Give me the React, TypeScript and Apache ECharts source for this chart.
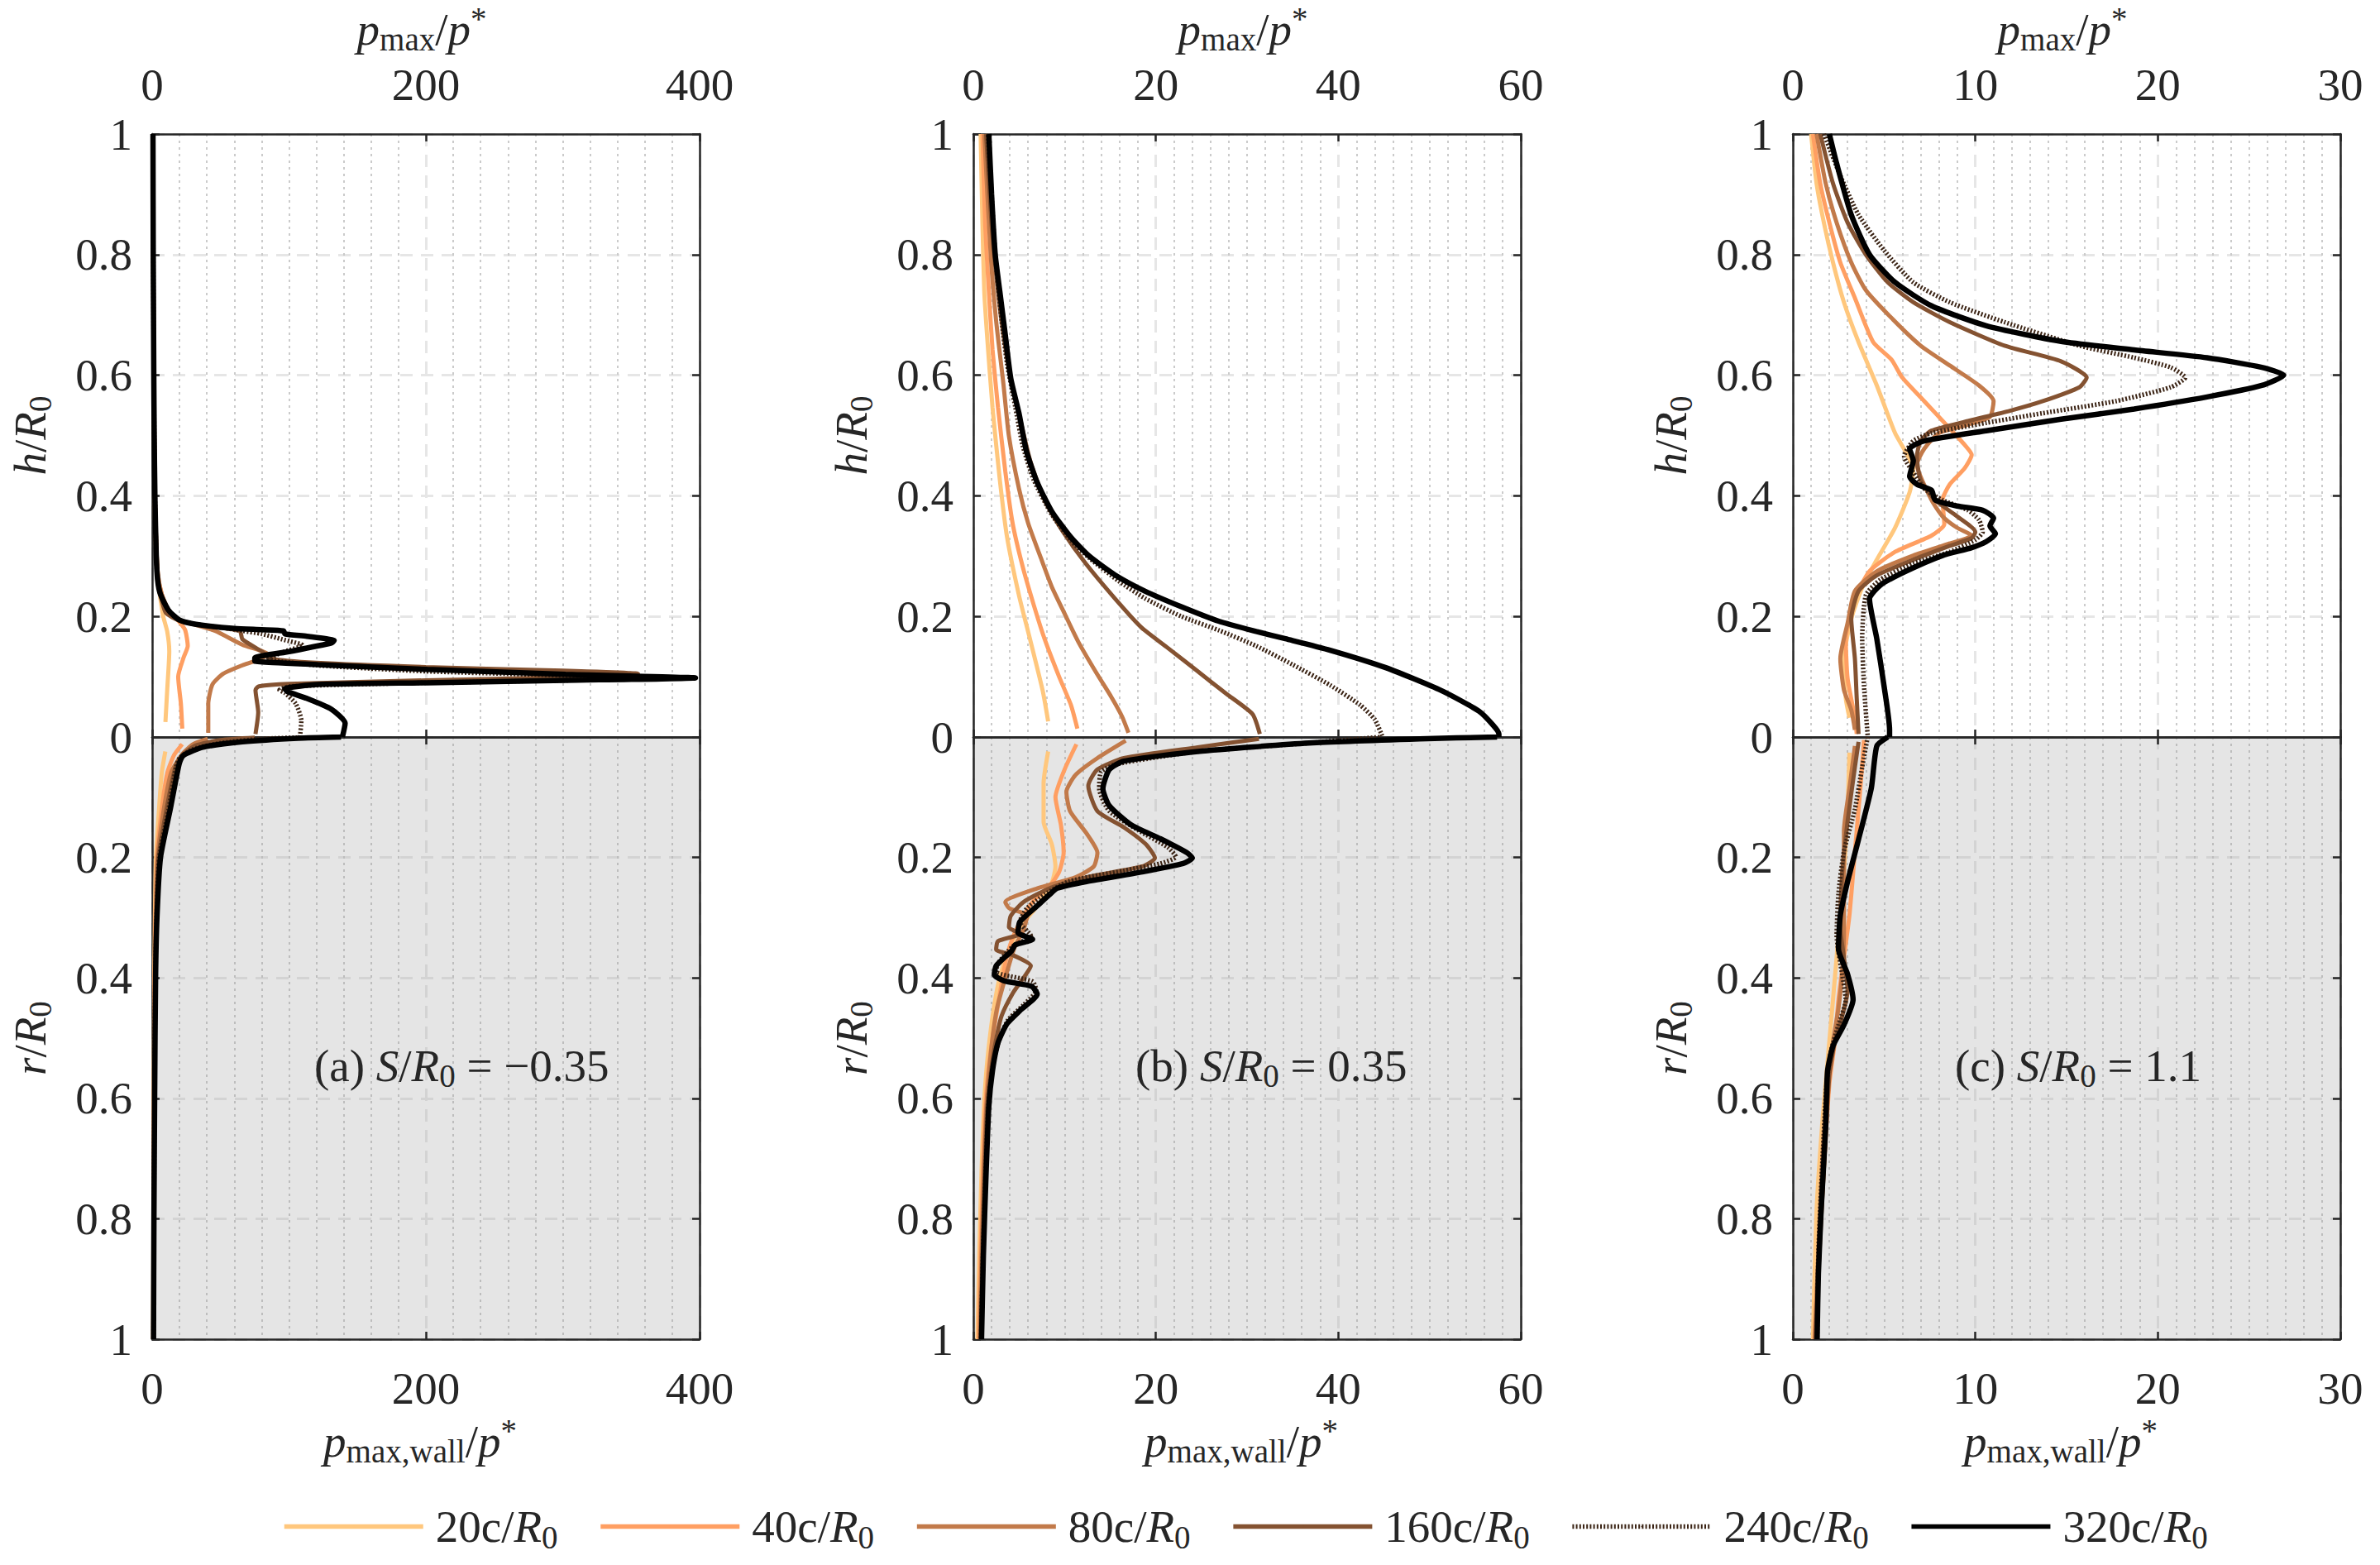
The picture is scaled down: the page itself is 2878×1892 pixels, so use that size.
import React, { useEffect, useRef } from 'react';
import * as echarts from 'echarts';

// ---------- series meta ----------
const seriesNames = ['20', '40', '80', '160', '240', '320'];
const seriesColors = ['#FFC77D', '#FF9F62', '#C27A4A', '#845231', '#3B2415', '#000000'];

// ---------- panel (a) S/R0 = -0.35 : [p, h] upper, [p, r] lower ----------
const A_top_20 = [[9.7,0.025],[11,0.078],[12.5,0.142],[11,0.175],[8,0.201],[4.4,0.26],[2.6,0.32],[1.8,0.4],[1.2,0.55],[0.8,0.75],[0.5,1]];
const A_top_40 = [[22,0.014],[21,0.055],[19,0.1],[23,0.132],[26,0.151],[24,0.178],[18,0.196],[12,0.21],[7,0.237],[4.2,0.27],[2.8,0.32],[2,0.4],[1.3,0.55],[0.9,0.75],[0.55,1]];
const A_top_80 = [[41,0.007],[41,0.055],[44,0.087],[52,0.105],[66,0.119],[75,0.126],[85,0.137],[66,0.153],[46,0.176],[30,0.187],[20,0.194],[12,0.21],[7,0.237],[4.2,0.27],[3,0.32],[2,0.4],[1.4,0.55],[0.9,0.75],[0.6,1]];
const A_top_160 = [[75.5,0.005],[77.5,0.041],[75.5,0.078],[78,0.084],[100,0.088],[200,0.094],[300,0.099],[355,0.105],[300,0.11],[200,0.116],[120,0.123],[87,0.13],[80,0.142],[66,0.162],[64,0.176],[40,0.184],[20,0.193],[10,0.206],[6,0.237],[4,0.27],[3,0.32],[2,0.4],[1.4,0.55],[0.9,0.75],[0.6,1]];
const A_top_240 = [[108,0],[109,0.027],[105,0.055],[97,0.073],[93,0.078],[101,0.084],[200,0.09],[302,0.094],[364,0.0975],[302,0.102],[200,0.109],[120,0.119],[85,0.13],[97,0.142],[110,0.152],[95,0.162],[80,0.171],[66,0.176],[55,0.18],[32,0.187],[20,0.194],[12,0.21],[6,0.237],[4,0.26],[3,0.3],[2,0.4],[1.5,0.5],[1.2,0.6],[0.8,0.8],[0.6,1]];
const A_top_320 = [[139,0],[141,0.023],[131,0.046],[113,0.064],[99,0.075],[97,0.08],[121,0.087],[201,0.09],[302,0.094],[397,0.098],[302,0.104],[201,0.112],[121,0.12],[75,0.126],[75,0.131],[101,0.142],[131,0.156],[133,0.16],[113,0.167],[97,0.171],[96,0.176],[80,0.178],[60,0.18],[32,0.187],[20,0.194],[12,0.21],[6,0.237],[4,0.26],[3,0.3],[2,0.4],[1.5,0.5],[1.2,0.6],[0.8,0.8],[0.6,1]];

const A_bot_20 = [[9.6,0.024],[7,0.06],[5,0.12],[2.8,0.2],[2,0.3],[1.6,0.4],[1.2,0.6],[0.9,0.8],[0.7,1]];
const A_bot_40 = [[22,0.012],[16,0.03],[11,0.06],[7,0.12],[3.5,0.2],[2.4,0.3],[1.8,0.4],[1.3,0.6],[1,0.8],[0.8,1]];
const A_bot_80 = [[40.6,0.003],[30,0.012],[22.6,0.027],[14,0.058],[8.5,0.12],[4,0.2],[2.7,0.3],[2,0.4],[1.5,0.6],[1.1,0.8],[0.9,1]];
const A_bot_160 = [[75,0.001],[50,0.005],[32,0.014],[22,0.03],[17,0.05],[10.5,0.12],[4.6,0.2],[3,0.3],[2.2,0.4],[1.6,0.6],[1.2,0.8],[1,1]];
const A_bot_240 = [[106,0.001],[80,0.003],[50,0.01],[30,0.02],[20,0.035],[17.5,0.05],[12,0.12],[5.2,0.2],[3.2,0.3],[2.3,0.4],[1.7,0.6],[1.25,0.8],[1,1]];
const A_bot_320 = [[138,0],[106.5,0.002],[66,0.008],[37,0.017],[22.6,0.031],[19.7,0.045],[13.4,0.118],[6.1,0.2],[3.5,0.3],[2.5,0.4],[1.8,0.6],[1.3,0.8],[1,1]];

// ---------- panel (b) S/R0 = 0.35 ----------
const B_top_20 = [[8.2,0.026],[7.6,0.077],[6.2,0.163],[5,0.235],[3.7,0.331],[2.9,0.427],[2.1,0.547],[1.5,0.667],[1.2,0.739],[1,0.85],[0.8,1]];
const B_top_40 = [[11.4,0.014],[10.7,0.053],[9.4,0.1],[7.8,0.163],[6.6,0.22],[5.4,0.283],[4.3,0.355],[3.5,0.441],[2.7,0.547],[2.1,0.643],[1.7,0.739],[1.3,0.85],[1,1]];
const B_top_80 = [[17,0.007],[16.3,0.034],[15.1,0.067],[13.5,0.106],[11.5,0.158],[9.8,0.211],[8.6,0.249],[7.4,0.297],[6,0.355],[5,0.412],[3.9,0.499],[3.3,0.585],[2.5,0.69],[1.9,0.8],[1.2,1]];
const B_top_160 = [[31.4,0.005],[30.6,0.038],[27.7,0.072],[24.5,0.11],[21.2,0.149],[18.4,0.182],[15.5,0.23],[12.3,0.288],[9.8,0.341],[7.8,0.393],[6.2,0.46],[5.2,0.523],[4.1,0.595],[3.3,0.667],[2.7,0.739],[2,0.85],[1.4,1]];
const B_top_240 = [[44.8,0.002],[44,0.029],[42.4,0.053],[39.1,0.086],[35,0.12],[31,0.151],[26.9,0.177],[22.8,0.2],[18.8,0.23],[15.9,0.259],[12.7,0.297],[10.7,0.326],[8.6,0.369],[6.6,0.427],[5.4,0.484],[4.6,0.547],[3.7,0.619],[3.1,0.69],[2.4,0.8],[2,0.9],[1.6,1]];
const B_top_320 = [[57.6,0],[57.6,0.005],[57,0.019],[55.4,0.043],[51.3,0.077],[45.2,0.115],[39.1,0.144],[34.2,0.163],[31,0.175],[26.9,0.192],[22.8,0.216],[18.8,0.242],[15.5,0.269],[12.7,0.3],[10.7,0.331],[8.6,0.374],[7,0.422],[5.8,0.475],[5,0.537],[4.1,0.595],[3.5,0.667],[2.9,0.739],[2.4,0.8],[2,0.9],[1.7,1]];

const B_bot_20 = [[8.2,0.024],[7.7,0.077],[7.7,0.141],[8.6,0.178],[9,0.215],[8.6,0.242],[7.1,0.279],[5.1,0.316],[3.9,0.353],[2.9,0.399],[2.3,0.445],[1.8,0.5],[1.4,0.56],[1.15,0.62],[0.9,0.72],[0.65,0.86],[0.45,1]];
const B_bot_40 = [[11.3,0.012],[10,0.054],[9,0.1],[9.6,0.146],[9.9,0.192],[9.4,0.224],[8.4,0.247],[6.7,0.27],[5.5,0.297],[4.3,0.334],[3.5,0.376],[2.7,0.445],[2.1,0.5],[1.6,0.56],[1.3,0.62],[1.05,0.72],[0.8,0.86],[0.6,1]];
const B_bot_80 = [[16.7,0.006],[13.6,0.035],[11.2,0.063],[10.2,0.091],[10.6,0.123],[12.4,0.16],[13.6,0.192],[13.2,0.215],[11.2,0.233],[7.1,0.251],[3.5,0.274],[3.9,0.284],[5.9,0.297],[5.5,0.32],[4.5,0.35],[3.5,0.4],[2.6,0.45],[2.1,0.5],[1.7,0.56],[1.4,0.62],[1.15,0.72],[0.9,0.86],[0.7,1]];
const B_bot_160 = [[31.3,0.003],[24.6,0.017],[16.5,0.035],[13.6,0.054],[12.6,0.081],[13.6,0.123],[16.5,0.15],[18.9,0.178],[19.9,0.201],[18.5,0.215],[12.4,0.233],[8.4,0.251],[5.5,0.274],[4.1,0.297],[3.9,0.316],[5.1,0.327],[2.7,0.339],[2.5,0.353],[4.3,0.362],[6.3,0.38],[5.5,0.4],[4.3,0.426],[3.1,0.463],[2.4,0.51],[1.9,0.56],[1.5,0.62],[1.25,0.72],[1,0.86],[0.8,1]];
const B_bot_240 = [[44.5,0],[36.8,0.01],[24.6,0.024],[15.7,0.045],[14,0.058],[13.8,0.086],[14.9,0.123],[18.1,0.155],[21.3,0.183],[22.2,0.199],[20.5,0.21],[16.5,0.222],[10.4,0.24],[7.9,0.261],[5.9,0.284],[5.1,0.307],[6.3,0.33],[4.3,0.348],[2.7,0.376],[2.5,0.39],[6.5,0.406],[6.9,0.421],[5.5,0.445],[3.8,0.47],[2.8,0.505],[2.1,0.55],[1.65,0.61],[1.35,0.72],[1.05,0.86],[0.85,1]];
const B_bot_320 = [[57.4,0],[48.9,0.003],[36.8,0.01],[24.6,0.024],[16.5,0.04],[14.9,0.054],[14.2,0.086],[14.9,0.114],[17.3,0.146],[20.5,0.169],[23.4,0.192],[24,0.201],[23,0.21],[18.5,0.224],[12.4,0.24],[9.2,0.251],[8.4,0.261],[7.1,0.279],[5.1,0.307],[4.9,0.325],[6.5,0.336],[4.6,0.345],[4.2,0.355],[2.5,0.38],[2.3,0.395],[3.4,0.405],[6.4,0.414],[7,0.427],[5.2,0.453],[3.7,0.476],[2.7,0.508],[2.1,0.554],[1.7,0.613],[1.4,0.723],[1.1,0.861],[0.9,1]];

// ---------- panel (c) S/R0 = 1.1 ----------
const C_top_20 = [[1,1],[1.3,0.918],[1.7,0.853],[2.2,0.787],[2.8,0.721],[3.6,0.655],[4.6,0.583],[5.6,0.504],[6.2,0.472],[6.6,0.445],[6.4,0.406],[5.6,0.347],[4.6,0.294],[3.8,0.248],[3.2,0.196],[2.8,0.13],[2.9,0.064],[3.1,0.032]];
const C_top_40 = [[1.1,1],[1.5,0.918],[2,0.853],[2.6,0.787],[3.4,0.728],[4.4,0.655],[5.4,0.626],[6,0.596],[7.2,0.557],[8.4,0.518],[9.4,0.485],[9.8,0.468],[9.4,0.445],[8.6,0.419],[8.2,0.393],[8.3,0.353],[7.6,0.334],[5.6,0.307],[4.2,0.275],[3.4,0.229],[2.9,0.163],[3,0.097],[3.4,0.032],[3.5,0.005]];
const C_top_80 = [[1.3,1],[1.8,0.918],[2.4,0.853],[3.2,0.787],[4,0.741],[5.4,0.695],[7,0.649],[8.6,0.616],[10.2,0.583],[11,0.557],[10.8,0.531],[9.6,0.518],[8,0.504],[7.2,0.478],[6.8,0.452],[7.6,0.393],[8.2,0.366],[9,0.347],[9.8,0.334],[8.6,0.321],[6.6,0.301],[4.6,0.275],[3.4,0.242],[3,0.189],[2.6,0.13],[2.8,0.078],[3.2,0.045],[3.4,0.012]];
const C_top_160 = [[1.5,1],[2.2,0.918],[3,0.853],[4,0.8],[5.2,0.754],[6.6,0.721],[8.6,0.688],[11.6,0.649],[14.7,0.623],[16.1,0.596],[15.7,0.58],[13.7,0.557],[11.9,0.541],[9.6,0.524],[7.6,0.508],[7,0.491],[6.8,0.465],[7,0.426],[7.8,0.393],[9,0.366],[10,0.34],[9.8,0.33],[8.6,0.317],[6.6,0.294],[4.6,0.268],[3.6,0.242],[3.2,0.196],[3.4,0.13],[3.5,0.064],[3.6,0.005]];
const C_top_240 = [[1.7,1],[2.6,0.931],[3.6,0.866],[5,0.807],[6.6,0.754],[8.6,0.721],[11.6,0.688],[15.7,0.649],[18.7,0.629],[20.7,0.613],[21.5,0.596],[20.7,0.58],[17.7,0.557],[13.7,0.537],[10.6,0.521],[7.6,0.504],[6.6,0.491],[6.1,0.465],[6.6,0.439],[7.2,0.412],[8.2,0.393],[9.6,0.376],[10.2,0.36],[10.4,0.34],[10,0.327],[8.6,0.307],[6.6,0.288],[4.8,0.261],[4,0.235],[3.8,0.163],[3.9,0.084],[4.1,0.002]];
const C_top_320 = [[2,1],[2.4,0.951],[3.2,0.866],[4.2,0.8],[5.6,0.754],[7.6,0.715],[10.6,0.682],[14.7,0.656],[18.7,0.642],[22.7,0.629],[25.7,0.613],[26.9,0.6],[25.7,0.583],[22.7,0.564],[18.7,0.544],[14.7,0.527],[10.6,0.508],[7.2,0.491],[6.4,0.478],[6.6,0.458],[6.4,0.432],[6.8,0.419],[7.6,0.409],[7.8,0.393],[9,0.383],[10.4,0.376],[11,0.363],[10.8,0.35],[11.1,0.337],[10.6,0.324],[9.8,0.314],[8.2,0.301],[6.2,0.275],[4.8,0.252],[4.2,0.229],[4.6,0.163],[5,0.084],[5.3,0.012],[5.3,0]];

const C_bot_20 = [[3.1,0.026],[3,0.12],[2.8,0.226],[2.5,0.33],[2.2,0.436],[1.9,0.54],[1.6,0.646],[1.3,0.786],[1.1,1]];
const C_bot_40 = [[3.9,0.005],[3.7,0.085],[3.4,0.19],[3.1,0.296],[2.8,0.366],[2.5,0.436],[2.3,0.506],[2,0.576],[1.7,0.716],[1.3,0.926],[1.18,1]];
const C_bot_80 = [[3.4,0.015],[3.1,0.085],[2.8,0.156],[2.8,0.24],[2.8,0.33],[2.7,0.394],[2.5,0.45],[2.2,0.506],[1.9,0.576],[1.6,0.716],[1.3,0.926],[1.2,1]];
const C_bot_160 = [[3.6,0.008],[3.4,0.05],[3,0.14],[2.7,0.226],[2.6,0.317],[2.8,0.366],[3,0.422],[2.7,0.464],[2.3,0.506],[2,0.562],[1.7,0.716],[1.4,0.891],[1.25,1]];
const C_bot_240 = [[4.1,0],[3.8,0.05],[3.4,0.12],[2.8,0.19],[2.5,0.26],[2.4,0.33],[2.7,0.394],[2.9,0.436],[2.5,0.478],[2.1,0.52],[1.85,0.576],[1.6,0.716],[1.4,0.856],[1.33,1]];
const C_bot_320 = [[5.2,0],[4.6,0.015],[4.3,0.085],[3.6,0.17],[3,0.24],[2.6,0.296],[2.5,0.352],[3,0.394],[3.3,0.436],[2.8,0.478],[2.2,0.513],[1.9,0.555],[1.8,0.646],[1.55,0.786],[1.4,0.891],[1.33,1]];

// ---------- axes ----------
const xMaxes = [400, 60, 30];
const xIntervals = [200, 20, 10];
const panelTags = ['(a)', '(b)', '(c)'];
const panelSValues = ['−0.35', '0.35', '1.1'];

const topData = [
  [A_top_20, A_top_40, A_top_80, A_top_160, A_top_240, A_top_320],
  [B_top_20, B_top_40, B_top_80, B_top_160, B_top_240, B_top_320],
  [C_top_20, C_top_40, C_top_80, C_top_160, C_top_240, C_top_320],
];
const botData = [
  [A_bot_20, A_bot_40, A_bot_80, A_bot_160, A_bot_240, A_bot_320],
  [B_bot_20, B_bot_40, B_bot_80, B_bot_160, B_bot_240, B_bot_320],
  [C_bot_20, C_bot_40, C_bot_80, C_bot_160, C_bot_240, C_bot_320],
];

// ---------- layout ----------
const FONT = "'Liberation Serif', 'DejaVu Serif', 'Noto Serif', serif";
const FS = 55;
const SUBFS = 39;
const INK = '#262626';
const PANEL_LEFT = [184, 1177, 2168];
const PANEL_W = 662;
const TOP = 162;
const MID = 891;
const BOTTOM = 1619;

const rich: any = {
  u: { fontFamily: FONT, fontSize: FS, lineHeight: 64, color: INK, fill: INK },
  i: { fontFamily: FONT, fontSize: FS, fontStyle: 'italic', lineHeight: 64, color: INK, fill: INK },
  s: { fontFamily: FONT, fontSize: SUBFS, verticalAlign: 'bottom', color: INK, fill: INK },
  p: { fontFamily: FONT, fontSize: SUBFS, verticalAlign: 'top', color: INK, fill: INK },
  g: { fontFamily: FONT, fontSize: FS, lineHeight: 64, color: INK, fill: INK, padding: [0, 0, 0, 10] },
};

function fmtY(v: number) {
  if (v === 0) return '0';
  if (Math.abs(v - 1) < 1e-9) return '1';
  return v.toFixed(1);
}

function buildOption() {
  const grid: any[] = [];
  const xAxis: any[] = [];
  const yAxis: any[] = [];
  const series: any[] = [];
  const graphics: any[] = [];

  const axisLine = { show: true, onZero: false, lineStyle: { color: INK, width: 2.5 } };
  const axisTick = { show: true, inside: true, length: 9, lineStyle: { color: INK, width: 2.5 } };
  const labelStyle = { fontFamily: FONT, fontSize: FS, color: INK, lineHeight: 55 };

  for (let i = 0; i < 3; i++) {
    const left = PANEL_LEFT[i];
    const max = xMaxes[i];
    const interval = xIntervals[i];
    grid.push({ left, top: TOP, width: PANEL_W, height: MID - TOP, show: true, backgroundColor: '#ffffff', borderWidth: 0, containLabel: false, outerBoundsMode: 'none' });
    grid.push({ left, top: MID, width: PANEL_W, height: BOTTOM - MID, show: true, backgroundColor: '#e5e5e5', borderWidth: 0, containLabel: false, outerBoundsMode: 'none' });
    const gU = 2 * i;
    const gL = 2 * i + 1;
    const majU = { show: true, lineStyle: { color: '#e6e6e6', width: 3, type: [15, 10] } };
    const majL = { show: true, lineStyle: { color: '#d3d3d3', width: 3, type: [15, 10] } };
    const minU = { show: true, lineStyle: { color: '#cbcbcb', width: 2, type: [3, 5] } };
    const minL = { show: true, lineStyle: { color: '#bdbdbd', width: 2, type: [3, 5] } };
    const baseX = { type: 'value', min: 0, max, interval, axisLine, axisTick, minorTick: { show: false, splitNumber: 10 } };
    xAxis.push({ ...baseX, gridIndex: gU, position: 'top', axisLabel: { ...labelStyle, margin: 32, showMinLabel: true, showMaxLabel: true }, splitLine: majU, minorSplitLine: minU });
    xAxis.push({ ...baseX, gridIndex: gU, position: 'bottom', axisLabel: { show: false }, splitLine: { show: false } });
    xAxis.push({ ...baseX, gridIndex: gL, position: 'bottom', axisLabel: { ...labelStyle, margin: 32, showMinLabel: true, showMaxLabel: true }, splitLine: majL, minorSplitLine: minL });
    xAxis.push({ ...baseX, gridIndex: gL, position: 'top', axisLabel: { show: false }, splitLine: { show: false } });

    const baseY = { type: 'value', min: 0, max: 1, interval: 0.2, axisLine, axisTick };
    yAxis.push({ ...baseY, gridIndex: gU, position: 'left', axisLabel: { ...labelStyle, margin: 24, formatter: fmtY, showMinLabel: true, showMaxLabel: true }, splitLine: majU });
    yAxis.push({ ...baseY, gridIndex: gU, position: 'right', axisLabel: { show: false }, splitLine: { show: false } });
    yAxis.push({ ...baseY, gridIndex: gL, position: 'left', inverse: true, axisLabel: { ...labelStyle, margin: 24, formatter: (v: number) => (v === 0 ? '' : fmtY(v)), showMinLabel: true, showMaxLabel: true }, splitLine: majL });
    yAxis.push({ ...baseY, gridIndex: gL, position: 'right', inverse: true, axisLabel: { show: false }, splitLine: { show: false } });

    for (let s = 0; s < 6; s++) {
      const isDot = s === 4;
      const lineStyle = {
        color: seriesColors[s],
        width: s === 5 ? 6.5 : isDot ? 5.5 : 5,
        type: isDot ? [2, 2.2] : 'solid',
        cap: 'butt',
      };
      const common = {
        type: 'line',
        name: seriesNames[s],
        symbol: 'none',
        showSymbol: false,
        smooth: 0.2,
        lineStyle,
        itemStyle: { color: seriesColors[s] },
        silent: true,
        animation: false,
        z: 3 + s,
      };
      series.push({ ...common, xAxisIndex: 4 * i, yAxisIndex: 4 * i, data: topData[i][s] });
      series.push({ ...common, xAxisIndex: 4 * i + 2, yAxisIndex: 4 * i + 2, data: botData[i][s] });
    }

    const cx = left + PANEL_W / 2;
    const center = { align: 'center', verticalAlign: 'middle', textAlign: 'center', textVerticalAlign: 'middle' };
    graphics.push({ type: 'text', x: cx - 5, y: 35, silent: true, style: { text: '{i|p}{s|max}{u|/}{i|p}{p|*}', rich, ...center } });
    graphics.push({ type: 'text', x: cx - 7, y: 1742, silent: true, style: { text: '{i|p}{s|max,wall}{u|/}{i|p}{p|*}', rich, ...center } });
    graphics.push({ type: 'text', x: left - 148, y: (TOP + MID) / 2, rotation: Math.PI / 2, silent: true, style: { text: '{i|h}{u|/}{i|R}{s|0}', rich, ...center } });
    graphics.push({ type: 'text', x: left - 148, y: (MID + BOTTOM) / 2, rotation: Math.PI / 2, silent: true, style: { text: '{i|r}{u|/}{i|R}{s|0}', rich, ...center } });
    graphics.push({ type: 'text', x: left + 196, y: 1288, silent: true, z: 100, style: { text: `{u|${panelTags[i]} }{i|S}{u|/}{i|R}{s|0}{u| = ${panelSValues[i]}}`, rich, align: 'left', verticalAlign: 'middle', textAlign: 'left', textVerticalAlign: 'middle' } });
  }

  return {
    animation: false,
    backgroundColor: '#ffffff',
    textStyle: { fontFamily: FONT },
    grid,
    xAxis,
    yAxis,
    series,
    legend: {
      show: true,
      data: seriesNames,
      orient: 'horizontal',
      left: 336,
      top: 1813,
      itemWidth: 168,
      itemHeight: 2,
      itemGap: 49,
      selectedMode: false,
      lineStyle: { width: 5.5 },
      formatter: (name: string) => `{g|${name}c/}{i|R}{s|0}`,
      textStyle: { fontFamily: FONT, fontSize: FS, color: INK, rich },
    },
    graphic: { elements: graphics },
  };
}

export default function App() {
  const ref = useRef<HTMLDivElement>(null);
  useEffect(() => {
    document.body.style.margin = '0';
    document.body.style.overflow = 'hidden';
    const chart = echarts.init(ref.current as HTMLDivElement, null, { renderer: 'svg' });
    chart.setOption(buildOption() as any);
    return () => {
      chart.dispose();
    };
  }, []);
  return <div ref={ref} style={{ width: 2878, height: 1892, background: '#ffffff' }} />;
}
